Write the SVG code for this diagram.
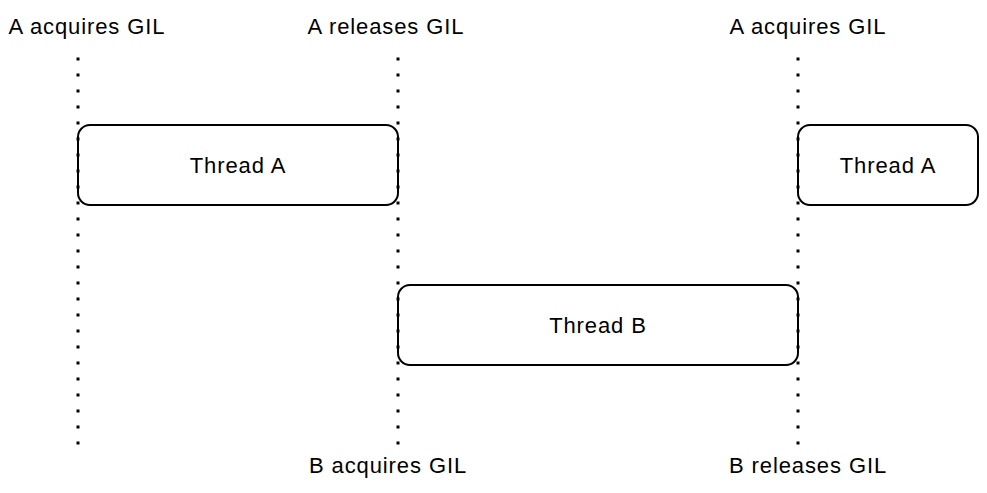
<svg xmlns="http://www.w3.org/2000/svg" width="987" height="493" viewBox="0 0 987 493">
<style>
.box{fill:#fff;stroke:#000;stroke-width:2}
.t{font-family:"Liberation Sans",Arial,sans-serif;font-size:22px;letter-spacing:0.9px;fill:#000;text-anchor:middle}
.dot{stroke:#000;stroke-width:3;stroke-dasharray:3 13;fill:none}
</style>
<rect width="987" height="493" fill="#fff"/>
<g id="threadA1"><rect class="box" x="78" y="125" width="320" height="80" rx="12"/><text class="t" x="238" y="173">Thread A</text></g>
<g id="threadB"><rect class="box" x="398" y="285" width="400" height="80" rx="12"/><text class="t" x="598" y="333">Thread B</text></g>
<g id="threadA2"><rect class="box" x="798" y="125" width="180" height="80" rx="12"/><text class="t" x="888" y="173">Thread A</text></g>
<g id="labels">
<text class="t" x="87" y="34">A acquires GIL</text>
<text class="t" x="386" y="34">A releases GIL</text>
<text class="t" x="808" y="34">A acquires GIL</text>
<text class="t" x="388" y="473">B acquires GIL</text>
<text class="t" x="808" y="473">B releases GIL</text>
</g>
<g id="connectors">
<line class="dot" x1="78" y1="57.5" x2="78" y2="446"/>
<line class="dot" x1="398" y1="57.5" x2="398" y2="446"/>
<line class="dot" x1="798" y1="57.5" x2="798" y2="446"/>
</g>
</svg>
